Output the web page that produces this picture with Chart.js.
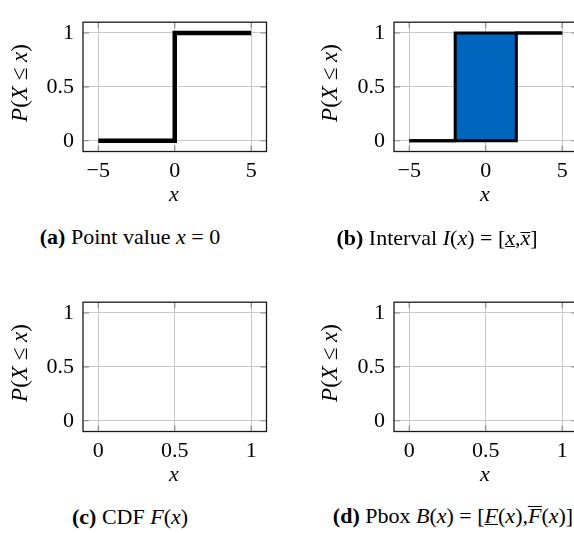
<!DOCTYPE html>
<html>
<head>
<meta charset="utf-8">
<script src="https://cdn.jsdelivr.net/npm/chart.js@4"></script>
<style>
  html, body { margin: 0; padding: 0; background: #fff; overflow: hidden; }
  body { width: 574px; height: 533px; position: relative; font-family: "Liberation Serif", "DejaVu Serif", serif; color: #000; }
  canvas { position: absolute; }
  .lbl { position: absolute; font-size: 22px; line-height: 22px; white-space: nowrap; transform: translate(-50%, -50%); }
  .ytitle { font-size: 23px; transform: translate(-50%, -50%) rotate(-90deg); }
  .ul { text-decoration: underline; text-decoration-thickness: 1.3px; }
  .olx { display: inline-block; border-top: 1.3px solid #000; line-height: 10px; }
  .olF { display: inline-block; border-top: 1.3px solid #000; line-height: 17px; }
</style>
</head>
<body>
<canvas id="chartA" width="290" height="200" style="left:0px; top:0px"></canvas>
<canvas id="chartB" width="290" height="200" style="left:311px; top:0px"></canvas>
<canvas id="chartC" width="290" height="200" style="left:0px; top:280px"></canvas>
<canvas id="chartD" width="290" height="200" style="left:311px; top:280px"></canvas>

<div class="lbl ytitle" style="left:20px; top:83px"><i>P</i>(<i>X</i> ≤ <i>x</i>)</div>
<div class="lbl ytitle" style="left:330px; top:83px"><i>P</i>(<i>X</i> ≤ <i>x</i>)</div>
<div class="lbl ytitle" style="left:20px; top:363px"><i>P</i>(<i>X</i> ≤ <i>x</i>)</div>
<div class="lbl ytitle" style="left:330px; top:363px"><i>P</i>(<i>X</i> ≤ <i>x</i>)</div>

<div class="lbl" style="left:174px; top:194px"><i>x</i></div>
<div class="lbl" style="left:485px; top:194px"><i>x</i></div>
<div class="lbl" style="left:174px; top:474px"><i>x</i></div>
<div class="lbl" style="left:485px; top:474px"><i>x</i></div>

<div class="lbl" style="left:130px; top:237px"><b>(a)</b> Point value <i>x</i> = 0</div>
<div class="lbl" style="left:437px; top:238px"><b>(b)</b> Interval <i>I</i>(<i>x</i>) = [<i class="ul">x</i>,<i class="olx">x</i>]</div>
<div class="lbl" style="left:130px; top:517px"><b>(c)</b> CDF <i>F</i>(<i>x</i>)</div>
<div class="lbl" style="left:453px; top:516px"><b>(d)</b> Pbox <i>B</i>(<i>x</i>) = [<i class="ul">F</i>(<i>x</i>),<i class="olF">F</i>(<i>x</i>)]</div>

<script>
'use strict';

// axis ranges and ticks
let wideRange = [-6, 6];
let wideTicks = [-5, 0, 5];
let unitRange = [-0.1, 1.1];
let unitTicks = [0, 0.5, 1];
let probRange = [-0.1, 1.1];
let probTicks = [0, 0.5, 1];

// (a) point value at x = 0
let pointX = [-5, 0, 0, 5];
let pointY = [0, 0, 1, 1];

// (b) interval [-2, 2]
let upperX = [-5, -2, -2, 5];
let upperY = [0, 0, 1, 1];
let lowerX = [-5, 2, 2, 5];
let lowerY = [0, 0, 1, 1];
let intervalX = [-2, 2];
let intervalY = [1, 1];

let blue = '#0065BD';

Chart.defaults.font.family = '"Liberation Serif", "DejaVu Serif", serif';
Chart.defaults.font.size = 22;
Chart.defaults.color = '#000';

function toPoints(xs, ys) {
  let pts = [];
  for (let i = 0; i < xs.length; i++) {
    pts.push({ x: xs[i], y: ys[i] });
  }
  return pts;
}

function fmt(v) {
  return v < 0 ? '\u2212' + Math.abs(v) : String(v);
}

// frame round the plot area and little tick marks on all four sides
const framePlugin = {
  id: 'frame',
  beforeDatasetsDraw(chart) {
    const ctx = chart.ctx;
    const a = chart.chartArea;
    const xs = chart.scales.x;
    const ys = chart.scales.y;
    const len = 6;
    ctx.save();
    ctx.strokeStyle = '#8a8a8a';
    ctx.lineWidth = 1.2;
    ctx.beginPath();
    xs.ticks.forEach(t => {
      let px = xs.getPixelForValue(t.value);
      ctx.moveTo(px, a.top); ctx.lineTo(px, a.top + len);
      ctx.moveTo(px, a.bottom); ctx.lineTo(px, a.bottom - len);
    });
    ys.ticks.forEach(t => {
      let py = ys.getPixelForValue(t.value);
      ctx.moveTo(a.left, py); ctx.lineTo(a.left + len, py);
      ctx.moveTo(a.right, py); ctx.lineTo(a.right - len, py);
    });
    ctx.stroke();
    ctx.restore();
  },
  afterDatasetsDraw(chart) {
    const ctx = chart.ctx;
    const a = chart.chartArea;
    ctx.save();
    ctx.strokeStyle = '#1a1a1a';
    ctx.lineWidth = 1.3;
    ctx.strokeRect(a.left, a.top, a.right - a.left, a.bottom - a.top);
    ctx.restore();
  }
};

function makeChart(id, datasets, xRange, xTicks) {
  return new Chart(document.getElementById(id), {
    type: 'scatter',
    data: { datasets: datasets },
    options: {
      responsive: false,
      animation: false,
      events: [],
      layout: { padding: { top: 11, right: 23.5, left: 0, bottom: 0 } },
      plugins: { legend: { display: false }, tooltip: { enabled: false } },
      scales: {
        x: {
          type: 'linear',
          min: xRange[0],
          max: xRange[1],
          afterBuildTicks: s => { s.ticks = xTicks.map(v => ({ value: v })); },
          afterFit: s => { s.height = 48.5; },
          ticks: { padding: 7, callback: v => fmt(v), maxRotation: 0 },
          grid: { color: '#c8c8c8', lineWidth: 1, drawTicks: false },
          border: { display: false }
        },
        y: {
          type: 'linear',
          min: probRange[0],
          max: probRange[1],
          afterBuildTicks: s => { s.ticks = probTicks.map(v => ({ value: v })); },
          afterFit: s => { s.width = 83; },
          ticks: { padding: 9, callback: v => fmt(v) },
          grid: { color: '#c8c8c8', lineWidth: 1, drawTicks: false },
          border: { display: false }
        }
      }
    },
    plugins: [framePlugin]
  });
}

function stepLine(xs, ys, width) {
  return {
    data: toPoints(xs, ys),
    showLine: true,
    borderColor: '#000',
    borderWidth: width,
    borderJoinStyle: 'miter',
    borderCapStyle: 'butt',
    pointRadius: 0,
    fill: false
  };
}

makeChart('chartA', [stepLine(pointX, pointY, 4.5)], wideRange, wideTicks);

makeChart('chartB', [
  stepLine(upperX, upperY, 3),
  stepLine(lowerX, lowerY, 3),
  {
    data: toPoints(intervalX, intervalY),
    showLine: true,
    borderWidth: 0,
    borderColor: blue,
    backgroundColor: blue,
    pointRadius: 0,
    fill: 'origin'
  }
], wideRange, wideTicks);

makeChart('chartC', [], unitRange, unitTicks);
makeChart('chartD', [], unitRange, unitTicks);
</script>
</body>
</html>
